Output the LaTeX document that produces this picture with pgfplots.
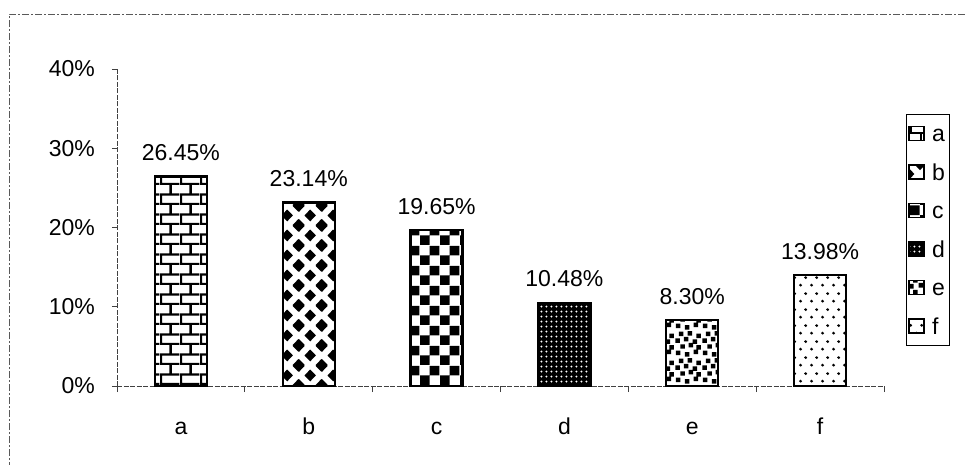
\documentclass[border=0pt]{standalone}
\usepackage{pgfplots}
\pgfplotsset{compat=1.18}
\usepackage{fontspec}
\setmainfont{Liberation Sans}
\usetikzlibrary{patterns}
\newcommand\fs{\fontsize{23}{27}\selectfont}

% bricks
\pgfdeclarepatternformonly{mybricks}{\pgfqpoint{0pt}{0pt}}{\pgfqpoint{20pt}{20pt}}{\pgfqpoint{20pt}{20pt}}{%
  \pgfsetlinewidth{2.4pt}%
  \pgfpathmoveto{\pgfqpoint{0pt}{1pt}}\pgfpathlineto{\pgfqpoint{20pt}{1pt}}%
  \pgfpathmoveto{\pgfqpoint{0pt}{11pt}}\pgfpathlineto{\pgfqpoint{20pt}{11pt}}%
  \pgfpathmoveto{\pgfqpoint{1pt}{1pt}}\pgfpathlineto{\pgfqpoint{1pt}{11pt}}%
  \pgfpathmoveto{\pgfqpoint{11pt}{11pt}}\pgfpathlineto{\pgfqpoint{11pt}{21pt}}%
  \pgfusepath{stroke}}
% diamonds
\newcommand\dia[2]{%
  \pgfpathmoveto{\pgfqpoint{\dimexpr#1pt-5.9pt}{#2pt}}%
  \pgfpathlineto{\pgfqpoint{#1pt}{\dimexpr#2pt+6.2pt}}%
  \pgfpathlineto{\pgfqpoint{\dimexpr#1pt+5.9pt}{#2pt}}%
  \pgfpathlineto{\pgfqpoint{#1pt}{\dimexpr#2pt-6.2pt}}%
  \pgfpathclose}
\pgfdeclarepatternformonly{mydiamonds}{\pgfqpoint{0pt}{0pt}}{\pgfqpoint{23pt}{20pt}}{\pgfqpoint{23pt}{20pt}}{%
  \dia{0}{0}\dia{23}{0}\dia{0}{20}\dia{23}{20}\dia{11.5}{10}%
  \pgfusepath{fill}}
% checkerboard
\pgfdeclarepatternformonly{mychecker}{\pgfqpoint{0pt}{0pt}}{\pgfqpoint{20pt}{20pt}}{\pgfqpoint{20pt}{20pt}}{%
  \pgfpathrectangle{\pgfqpoint{0pt}{0pt}}{\pgfqpoint{10pt}{10pt}}%
  \pgfpathrectangle{\pgfqpoint{10pt}{10pt}}{\pgfqpoint{10pt}{10pt}}%
  \pgfusepath{fill}}
% dark with white dots
\pgfdeclarepatternformonly{mydark}{\pgfqpoint{0pt}{0pt}}{\pgfqpoint{5.4pt}{5.4pt}}{\pgfqpoint{5.4pt}{5.4pt}}{%
  \pgfseteorule
  \pgfpathrectangle{\pgfqpoint{0pt}{0pt}}{\pgfqpoint{5.4pt}{5.4pt}}%
  \pgfpathcircle{\pgfqpoint{2.7pt}{2.7pt}}{1.4pt}%
  \pgfusepath{fill}}
% irregular squares
\newcommand\sq[2]{\pgfpathrectangle{\pgfqpoint{#1pt}{#2pt}}{\pgfqpoint{4.6pt}{4.6pt}}}
\pgfdeclarepatternformonly{myconfetti}{\pgfqpoint{0pt}{0pt}}{\pgfqpoint{27pt}{27pt}}{\pgfqpoint{27pt}{27pt}}{%
  \sq{1}{2}\sq{10}{0.5}\sq{19}{3}\sq{5.5}{8.5}\sq{14}{10}\sq{22}{7.5}%
  \sq{0.5}{14.5}\sq{9}{16}\sq{18}{13.5}\sq{4}{21.5}\sq{13}{22}\sq{22}{19.5}%
  \pgfusepath{fill}}
% sparse dots
\pgfdeclarepatternformonly{mysparse}{\pgfqpoint{0pt}{0pt}}{\pgfqpoint{10.5pt}{16pt}}{\pgfqpoint{10.5pt}{16pt}}{%
  \pgfpathcircle{\pgfqpoint{2.6pt}{4pt}}{1.6pt}%
  \pgfpathcircle{\pgfqpoint{7.9pt}{12pt}}{1.6pt}%
  \pgfusepath{fill}}

\pgfplotsset{
  mybar/.style={ybar, bar width=52pt, bar shift=0pt, draw=black, line width=2.4pt,
    pattern=#1, pattern color=black,
    legend image code/.code={\draw[##1, line width=1.6pt] (0pt,-7pt) rectangle (15pt,7pt);}},
}

\begin{document}
\begin{tikzpicture}[x=1pt,y=1pt]
\path[use as bounding box] (0,0) rectangle (966,464);
\draw[black!65, line width=0.8pt, dash pattern=on 7pt off 2pt on 2pt off 2pt] (9,-5) -- (9,450) -- (975,450);
\begin{axis}[
  at={(117pt,78pt)}, anchor=south west,
  scale only axis, width=767pt, height=317pt,
  xmin=-0.5, xmax=5.5, ymin=0, ymax=40,
  axis x line*=bottom, axis y line*=left,
  axis line style={black!75, line width=0.8pt, dash pattern=on 5pt off 1.5pt},
  xtick={0,...,5}, xticklabels={a,b,c,d,e,f},
  minor xtick={-0.5,0.5,...,5.5},
  ytick={0,10,20,30,40}, yticklabels={0\%,10\%,20\%,30\%,40\%},
  tick align=outside,
  major tick length=5pt, minor tick length=6pt,
  every major x tick/.style={draw=none},
  tick style={black!75, line width=0.8pt, solid},
  yticklabel style={font=\fs, inner sep=0pt, anchor=east, xshift=-17pt},
  xticklabel style={font=\fs, inner sep=0pt, anchor=base, yshift=-43pt},
  point meta=explicit symbolic,
  nodes near coords,
  every node near coord/.append style={font=\fs, inner sep=0pt, anchor=base, yshift=16pt},
  legend style={at={(rel axis cs:1.0287,0.858)}, anchor=north west,
    draw=black, line width=0.8pt, font=\fs, inner xsep=2pt, inner ysep=9pt,
    row sep=18.5pt, column sep=4pt,
    nodes={inner xsep=3pt, inner ysep=1.5pt, text height=17pt, text depth=0pt}},
  legend cell align=left,
]
\addplot[mybar=mybricks] coordinates {(0,26.45) [26.45\%]};
\addlegendentry{a}
\addplot[mybar=mydiamonds] coordinates {(1,23.14) [23.14\%]};
\addlegendentry{b}
\addplot[mybar=mychecker] coordinates {(2,19.65) [19.65\%]};
\addlegendentry{c}
\addplot[mybar=mydark] coordinates {(3,10.48) [10.48\%]};
\addlegendentry{d}
\addplot[mybar=myconfetti] coordinates {(4,8.30) [8.30\%]};
\addlegendentry{e}
\addplot[mybar=mysparse] coordinates {(5,13.98) [13.98\%]};
\addlegendentry{f}
\end{axis}
\end{tikzpicture}
\end{document}
